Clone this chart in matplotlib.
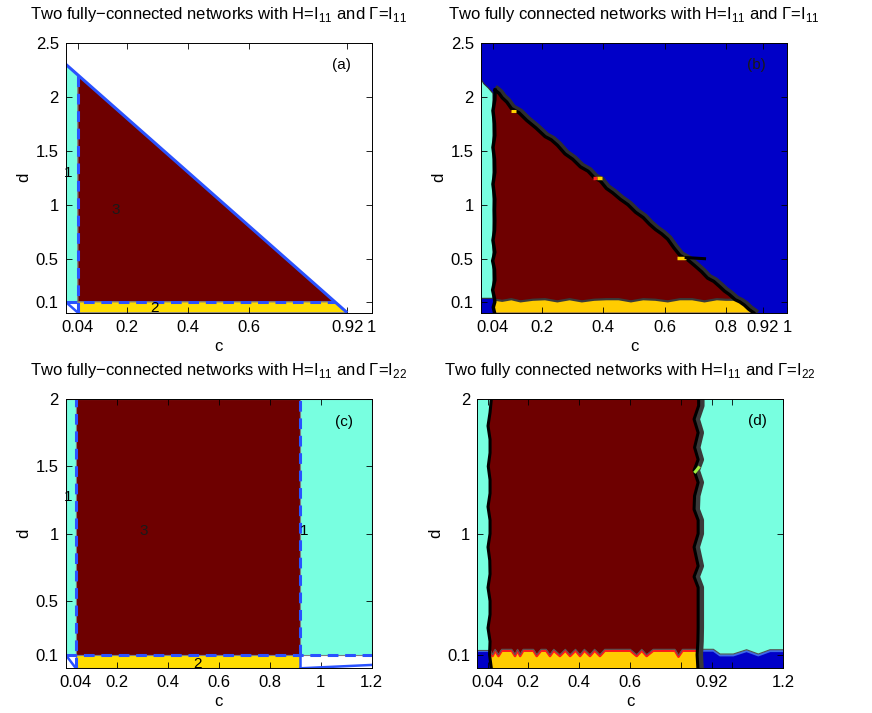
import numpy as np
import matplotlib
matplotlib.use("Agg")
import matplotlib.pyplot as plt

plt.rcParams['font.family'] = ['Liberation Sans', 'DejaVu Sans']
plt.rcParams['mathtext.fontset'] = 'custom'
plt.rcParams['mathtext.rm'] = 'Liberation Sans'
plt.rcParams['font.size'] = 12

CYAN = '#78FFE0'
MAROON = '#6E0000'
YELLOW = '#FFDD00'
YELLOW2 = '#FFCC00'
BLUE = '#0000C8'
LBLUE = '#2A52FF'
EDGE = '#7F7F7F'

# ---- panel (a) / (c): analytic boundaries
c_low = 0.04          # left threshold on c
d_low = 0.1           # threshold on d
a_line_c = [0.0, 0.92]   # solid boundary in (a)
a_line_d = [2.3, 0.0]
c_high = 0.92         # right threshold in (c)
c_slant_c = [0.92, 1.2]  # small slanted boundary in (c)
c_slant_d = [0.0, 0.025]

# ---- panel (b): simulated boundaries
bL_d = [0.0, 0.05, 0.1, 0.13, 0.21, 0.3, 0.4, 0.48, 0.56, 0.67, 0.76, 0.85, 0.95, 1.05, 1.19, 1.3, 1.42, 1.53, 1.64, 1.75, 1.87, 1.97, 2.06]
bL_c = [0.045, 0.041, 0.046, 0.045, 0.039, 0.046, 0.045, 0.039, 0.046, 0.040, 0.045, 0.046, 0.045, 0.046, 0.040, 0.046, 0.045, 0.040, 0.046, 0.045, 0.040, 0.046, 0.047]
bD_c = [0.047, 0.06, 0.07, 0.085, 0.10, 0.125, 0.15, 0.18, 0.21, 0.23, 0.25, 0.275, 0.30, 0.325, 0.35, 0.37, 0.39, 0.41, 0.43, 0.455, 0.48, 0.505, 0.53, 0.55, 0.57, 0.59, 0.61, 0.63, 0.65, 0.675, 0.70, 0.72, 0.74, 0.76, 0.78, 0.795, 0.81, 0.83, 0.845, 0.86, 0.875, 0.89]
bD_d = [2.06, 2.03, 1.99, 1.95, 1.89, 1.85, 1.78, 1.71, 1.63, 1.60, 1.55, 1.47, 1.42, 1.35, 1.31, 1.25, 1.22, 1.15, 1.11, 1.05, 1.00, 0.93, 0.88, 0.82, 0.77, 0.73, 0.68, 0.60, 0.53, 0.49, 0.43, 0.38, 0.32, 0.29, 0.24, 0.20, 0.17, 0.12, 0.10, 0.07, 0.03, 0.0]
bY_c = [0.047, 0.07, 0.10, 0.13, 0.17, 0.21, 0.25, 0.29, 0.33, 0.37, 0.41, 0.45, 0.49, 0.53, 0.57, 0.61, 0.65, 0.69, 0.73, 0.77, 0.80, 0.83]
bY_d = [0.12, 0.11, 0.125, 0.105, 0.12, 0.125, 0.105, 0.125, 0.105, 0.12, 0.125, 0.125, 0.105, 0.125, 0.12, 0.105, 0.125, 0.125, 0.105, 0.125, 0.12, 0.12]
bCyan_c = [0.0, 0.01, 0.025, 0.04]
bCyan_top = [2.17, 2.12, 2.08, 2.03]
bCyan_bot = 0.133

# ---- panel (d): simulated boundaries
dL_d = [0.0, 0.1, 0.2, 0.3, 0.4, 0.5, 0.6, 0.7, 0.8, 0.9, 1.0, 1.1, 1.2, 1.3, 1.4, 1.5, 1.6, 1.7, 1.8, 1.9, 2.0]
dL_c = [0.055, 0.048, 0.05, 0.042, 0.05, 0.05, 0.042, 0.05, 0.049, 0.042, 0.05, 0.05, 0.042, 0.05, 0.05, 0.043, 0.05, 0.05, 0.042, 0.05, 0.055]
dR_d = [0.0, 0.1, 0.2, 0.3, 0.4, 0.5, 0.6, 0.68, 0.76, 0.9, 1.0, 1.1, 1.18, 1.28, 1.38, 1.47, 1.55, 1.64, 1.75, 1.85, 1.95, 2.0]
dR_c = [0.865, 0.862, 0.865, 0.866, 0.866, 0.866, 0.866, 0.85, 0.866, 0.85, 0.866, 0.866, 0.85, 0.852, 0.866, 0.85, 0.866, 0.852, 0.866, 0.85, 0.868, 0.868]
dY_c = [0.05, 0.06, 0.07, 0.083, 0.096, 0.11, 0.135, 0.148, 0.158, 0.168, 0.18, 0.22, 0.233, 0.25, 0.27, 0.285, 0.30, 0.324, 0.345, 0.364, 0.385, 0.403, 0.42, 0.442, 0.46, 0.481, 0.50, 0.60, 0.625, 0.645, 0.664, 0.69, 0.76, 0.775, 0.789, 0.805, 0.82, 0.862]
dY_d = [0.12, 0.085, 0.125, 0.085, 0.125, 0.125, 0.125, 0.085, 0.125, 0.085, 0.125, 0.125, 0.085, 0.125, 0.125, 0.085, 0.125, 0.085, 0.125, 0.085, 0.125, 0.085, 0.125, 0.085, 0.125, 0.085, 0.125, 0.125, 0.085, 0.125, 0.085, 0.125, 0.125, 0.125, 0.08, 0.125, 0.125, 0.125]
dB_c = [0.88, 0.926, 0.952, 1.004, 1.056, 1.102, 1.148, 1.2]
dB_d = [0.135, 0.135, 0.10, 0.10, 0.132, 0.10, 0.132, 0.132]
dBl_top = 0.125

title11 = 'H=I$_{\\mathregular{11}}$ and \u0393=I$_{\\mathregular{11}}$'
title22 = 'H=I$_{\\mathregular{11}}$ and \u0393=I$_{\\mathregular{22}}$'

fig = plt.figure(figsize=(8.72, 7.13), dpi=100)
W, H = 872.0, 713.0
axA = fig.add_axes([65.7/W, (H-312.7)/H, 306/W, 270.1/H])
axB = fig.add_axes([480.7/W, (H-312.7)/H, 306.6/W, 270.1/H])
axC = fig.add_axes([65.7/W, (H-668.3)/H, 306/W, 269.3/H])
axD = fig.add_axes([477.3/W, (H-668.3)/H, 306/W, 269.3/H])


def style(ax, xt, xl, yt, yl, xmax, ymax):
    ax.set_xlim(0, xmax)
    ax.set_ylim(0, ymax)
    ax.set_xticks(xt)
    ax.set_xticklabels(xl)
    ax.set_yticks(yt)
    ax.set_yticklabels(yl)
    ax.tick_params(direction='in', top=True, right=True, length=4, width=0.6, labelsize=12, pad=5)
    for s in ax.spines.values():
        s.set_linewidth(0.7)
    ax.set_xlabel('c', fontsize=12, labelpad=3)
    ax.set_ylabel('d', fontsize=12, labelpad=3)


# ---------------- (a)
ax = axA
top_at_clow = a_line_d[0] + (a_line_d[1]-a_line_d[0])/(a_line_c[1]-a_line_c[0])*c_low
c_at_dlow = a_line_c[0] + (d_low-a_line_d[0])*(a_line_c[1]-a_line_c[0])/(a_line_d[1]-a_line_d[0])
ax.fill([0, c_low, c_low, 0], [d_low, d_low, top_at_clow, a_line_d[0]], color=CYAN, ec=EDGE, lw=0.8)
ax.fill([c_low, c_at_dlow, c_low], [d_low, d_low, top_at_clow], color=MAROON, ec=EDGE, lw=0.8)
ax.fill([c_low, a_line_c[1], c_at_dlow, c_low], [0, 0, d_low, d_low], color=YELLOW, ec=EDGE, lw=0.8)
ax.plot(a_line_c, a_line_d, color=LBLUE, lw=2.2, solid_capstyle='butt')
ax.plot([c_low, c_low], [0, top_at_clow], color=LBLUE, lw=2.2, ls=(0, (3.5, 2.2)))
ax.plot([0, c_at_dlow], [d_low, d_low], color=LBLUE, lw=2.2, ls=(0, (3.5, 2.2)))
ax.plot([0, c_low], [d_low, 0], color=LBLUE, lw=1.8)
ax.text(0.0065, 1.29, '1', ha='center', va='center', fontsize=11)
ax.text(0.163, 0.955, '3', ha='center', va='center', fontsize=11, color='#1a1a1a')
ax.text(0.289, 0.045, '2', ha='center', va='center', fontsize=11)
ax.text(0.90, 2.29, '(a)', ha='center', va='center', fontsize=11)
style(ax, [0.04, 0.2, 0.4, 0.6, 0.92, 1], ['0.04', '0.2', '0.4', '0.6', '0.92', '1'],
      [0.1, 0.5, 1, 1.5, 2, 2.5], ['0.1', '0.5', '1', '1.5', '2', '2.5'], 1, 2.5)
ax.set_title('Two fully\u2212connected networks with ' + title11, fontsize=12, pad=17)

# ---------------- (b)
ax = axB
ax.set_facecolor(BLUE)
ax.fill(bCyan_c + [bCyan_c[-1], 0], bCyan_top + [bCyan_bot, bCyan_bot], color=CYAN, ec='#303030', lw=0.8)
k = bD_d.index(0.12)
mx = bL_c[3:] + bD_c[1:k+1] + bY_c[::-1]
my = bL_d[3:] + bD_d[1:k+1] + bY_d[::-1]
ax.fill(mx, my, color=MAROON, lw=0)
yx = [bL_c[0]] + bD_c[k:][::-1][:1] + bD_c[k:][::-1] + bY_c[::-1]
yy = [0, 0] + bD_d[k:][::-1] + bY_d[::-1]
ax.fill(yx, yy, color=YELLOW2, lw=0)
ax.plot(bY_c, bY_d, color='#3A3A3A', lw=1.6)
ax.plot(np.array(bD_c) + 0.007, np.array(bD_d) + 0.015, color='#2E2E2E', lw=3.5)
ax.plot(bD_c, bD_d, color='black', lw=2.4)
ax.plot(bL_c, bL_d, color='black', lw=2.5)
# little specks along the boundary
ax.plot([0.365, 0.38], [1.25, 1.25], color='#FF2020', lw=2.5, solid_capstyle='butt')
ax.plot([0.38, 0.395], [1.25, 1.25], color='#FFD000', lw=2.5, solid_capstyle='butt')
ax.plot([0.64, 0.67], [0.51, 0.51], color='#FFD000', lw=2.5, solid_capstyle='butt')
ax.plot([0.67, 0.73], [0.51, 0.5], color='black', lw=2.2)
ax.plot([0.1, 0.115], [1.87, 1.87], color='#FFD000', lw=2.2, solid_capstyle='butt')
ax.text(0.90, 2.29, '(b)', ha='center', va='center', fontsize=11, color='#1a1a1a')
style(ax, [0.04, 0.2, 0.4, 0.6, 0.8, 0.92, 1], ['0.04', '0.2', '0.4', '0.6', '0.8', '0.92', '1'],
      [0.1, 0.5, 1, 1.5, 2, 2.5], ['0.1', '0.5', '1', '1.5', '2', '2.5'], 1, 2.5)
ax.set_title('Two fully connected networks with ' + title11, fontsize=12, pad=17)

# ---------------- (c)
ax = axC
ax.fill([0, c_low, c_low, 0], [d_low, d_low, 2, 2], color=CYAN, ec=EDGE, lw=0.8)
ax.fill([c_low, c_high, c_high, c_low], [d_low, d_low, 2, 2], color=MAROON, ec=EDGE, lw=0.8)
ax.fill([c_high, 1.2, 1.2, c_high], [d_low, d_low, 2, 2], color=CYAN, ec=EDGE, lw=0.8)
ax.fill([c_low, c_high, c_high, c_low], [0, 0, d_low, d_low], color=YELLOW, ec=EDGE, lw=0.8)
ax.plot([c_low, c_low], [0, 2], color=LBLUE, lw=2.2, ls=(0, (3.5, 2.2)))
ax.plot([c_high, c_high], [d_low, 2], color=LBLUE, lw=2.2, ls=(0, (3.5, 2.2)))
ax.plot([0, 1.2], [d_low, d_low], color=LBLUE, lw=2.2, ls=(0, (3.5, 2.2)))
ax.plot([c_high, c_high], [d_low, 0], color=LBLUE, lw=1.8)
ax.plot(c_slant_c, c_slant_d, color=LBLUE, lw=1.8)
ax.plot([0, c_low], [d_low, 0], color=LBLUE, lw=1.8)
ax.text(0.01, 1.27, '1', ha='center', va='center', fontsize=11)
ax.text(0.307, 1.02, '3', ha='center', va='center', fontsize=11, color='#1a1a1a')
ax.text(0.935, 1.02, '1', ha='center', va='center', fontsize=11)
ax.text(0.518, 0.035, '2', ha='center', va='center', fontsize=11)
ax.text(1.09, 1.83, '(c)', ha='center', va='center', fontsize=11)
style(ax, [0.04, 0.2, 0.4, 0.6, 0.8, 1, 1.2], ['0.04', '0.2', '0.4', '0.6', '0.8', '1', '1.2'],
      [0.1, 0.5, 1, 1.5, 2], ['0.1', '0.5', '1', '1.5', '2'], 1.2, 2)
ax.set_title('Two fully\u2212connected networks with ' + title22, fontsize=12, pad=17)

# ---------------- (d)
ax = axD
ax.set_facecolor(CYAN)
ax.fill([0] + dL_c[:2] + [0], [0, 0, dBl_top, dBl_top], color=BLUE, lw=0)
ax.plot([0, dL_c[1]], [dBl_top + 0.005, dBl_top + 0.005], color='#3F6AE8', lw=1.5)
ax.plot([0, dL_c[1]], [dBl_top + 0.014, dBl_top + 0.014], color='#505050', lw=0.8)
ax.fill(dB_c + [1.2, dB_c[0]], dB_d + [0, 0], color=BLUE, lw=0)
ax.plot(dB_c, np.array(dB_d) - 0.004, color='#3F6AE8', lw=1.5)
ax.plot(dB_c, np.array(dB_d) + 0.006, color='#505050', lw=0.8)
ax.fill(dL_c + dR_c[::-1], dL_d + dR_d[::-1], color=MAROON, lw=0)
ax.fill(dY_c + [dY_c[-1], dY_c[0]], dY_d + [0, 0], color=YELLOW2, lw=0)
ax.plot(dY_c, np.array(dY_d) + 0.006, color='#FF1A1A', lw=1.8)
ax.plot(dY_c, np.array(dY_d) + 0.016, color='#555555', lw=0.8)
ax.plot(np.array(dR_c) + 0.011, dR_d, color='#3A3A3A', lw=4.5)
ax.plot(dR_c, dR_d, color='black', lw=2.2)
ax.plot(dL_c, dL_d, color='black', lw=2.2)
ax.plot([0.855, 0.868], [1.46, 1.49], color='#A0F040', lw=2.2)
ax.text(1.10, 1.835, '(d)', ha='center', va='center', fontsize=11)
ax.set_xticks([0.8, 1.0], minor=True)
style(ax, [0.04, 0.2, 0.4, 0.6, 0.92, 1.2], ['0.04', '0.2', '0.4', '0.6', '0.92', '1.2'],
      [0.1, 1, 2], ['0.1', '1', '2'], 1.2, 2)
ax.tick_params(which='minor', direction='in', top=True, right=True, length=4, width=0.6)
ax.set_title('Two fully connected networks with ' + title22, fontsize=12, pad=17)

fig.savefig('out.png', dpi=100)
